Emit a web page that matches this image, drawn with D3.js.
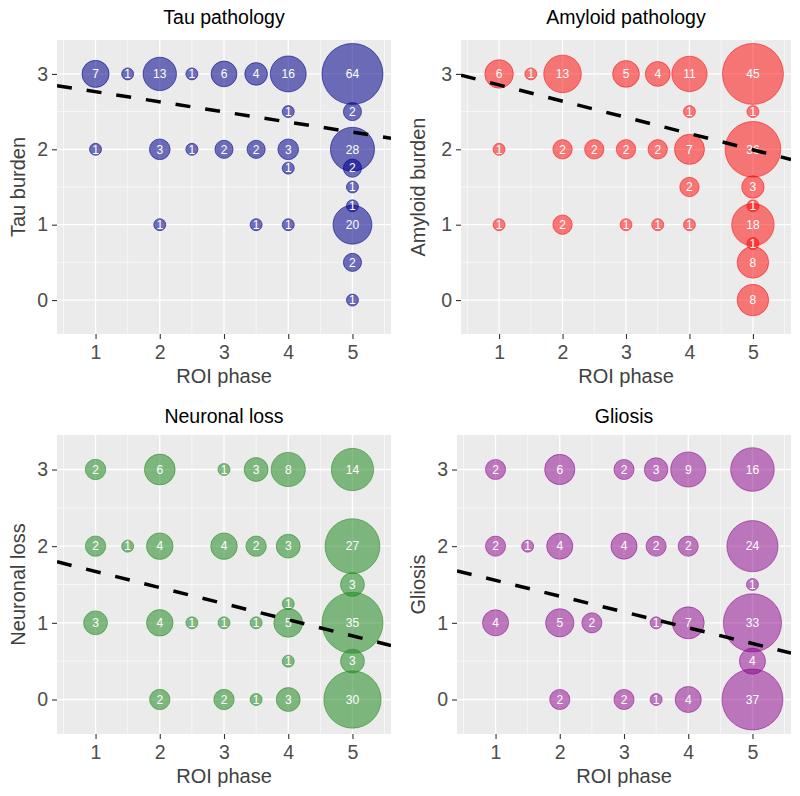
<!DOCTYPE html>
<html>
<head>
<meta charset="utf-8">
<script src="https://cdn.jsdelivr.net/npm/d3@7"></script>
<style>
  body { margin: 0; background: #fff; }
  svg { font-family: "Liberation Sans", Arial, Helvetica, sans-serif; }
</style>
</head>
<body>
<svg id="chart" width="800" height="796"></svg>
<script>
// each point: [ROI phase, burden score, number of cases]
const tauData = [
  [1, 3, 7], [1.5, 3, 1], [2, 3, 13], [2.5, 3, 1], [3, 3, 6], [3.5, 3, 4], [4, 3, 16], [5, 3, 64],
  [4, 2.5, 1], [5, 2.5, 2],
  [1, 2, 1], [2, 2, 3], [2.5, 2, 1], [3, 2, 2], [3.5, 2, 2], [4, 2, 3], [5, 2, 28],
  [4, 1.75, 1], [5, 1.75, 2],
  [5, 1.5, 1], [5, 1.25, 1],
  [2, 1, 1], [3.5, 1, 1], [4, 1, 1], [5, 1, 20],
  [5, 0.5, 2], [5, 0, 1]
];
const amyloidData = [
  [1, 3, 6], [1.5, 3, 1], [2, 3, 13], [3, 3, 5], [3.5, 3, 4], [4, 3, 11], [5, 3, 45],
  [4, 2.5, 1], [5, 2.5, 1],
  [1, 2, 1], [2, 2, 2], [2.5, 2, 2], [3, 2, 2], [3.5, 2, 2], [4, 2, 7], [5, 2, 36],
  [4, 1.5, 2], [5, 1.5, 3], [5, 1.25, 1],
  [1, 1, 1], [2, 1, 2], [3, 1, 1], [3.5, 1, 1], [4, 1, 1], [5, 1, 18],
  [5, 0.75, 1], [5, 0.5, 8], [5, 0, 8]
];
const neuronData = [
  [1, 3, 2], [2, 3, 6], [3, 3, 1], [3.5, 3, 3], [4, 3, 8], [5, 3, 14],
  [1, 2, 2], [1.5, 2, 1], [2, 2, 4], [3, 2, 4], [3.5, 2, 2], [4, 2, 3], [5, 2, 27],
  [5, 1.5, 3], [4, 1.25, 1],
  [1, 1, 3], [2, 1, 4], [2.5, 1, 1], [3, 1, 1], [3.5, 1, 1], [4, 1, 5], [5, 1, 35],
  [4, 0.5, 1], [5, 0.5, 3],
  [2, 0, 2], [3, 0, 2], [3.5, 0, 1], [4, 0, 3], [5, 0, 30]
];
const gliosisData = [
  [1, 3, 2], [2, 3, 6], [3, 3, 2], [3.5, 3, 3], [4, 3, 9], [5, 3, 16],
  [1, 2, 2], [1.5, 2, 1], [2, 2, 4], [3, 2, 4], [3.5, 2, 2], [4, 2, 2], [5, 2, 24],
  [5, 1.5, 1],
  [1, 1, 4], [2, 1, 5], [2.5, 1, 2], [3.5, 1, 1], [4, 1, 7], [5, 1, 33],
  [5, 0.5, 4],
  [2, 0, 2], [3, 0, 2], [3.5, 0, 1], [4, 0, 4], [5, 0, 37]
];

// fitted regression lines [intercept, slope]
const tauFit = [2.898, -0.134];
const amyloidFit = [3.069, -0.215];
const neuronFit = [1.88, -0.21];
const gliosisFit = [1.76, -0.206];

const xTicks = [1, 2, 3, 4, 5];
const yTicks = [0, 1, 2, 3];

const panels = [
  { title: "Tau pathology", ylab: "Tau burden", data: tauData, fit: tauFit,
    color: "#00008b", alpha: 0.55, box: { x0: 57, x1: 391, y0: 40, y1: 334 }, titleY: 24, ylabX: 25 },
  { title: "Amyloid pathology", ylab: "Amyloid burden", data: amyloidData, fit: amyloidFit,
    color: "#ff0000", alpha: 0.5, box: { x0: 461, x1: 791, y0: 40, y1: 334 }, titleY: 24, ylabX: 425 },
  { title: "Neuronal loss", ylab: "Neuronal loss", data: neuronData, fit: neuronFit,
    color: "#228b22", alpha: 0.55, box: { x0: 57, x1: 391, y0: 435, y1: 734 }, titleY: 422.5, ylabX: 25 },
  { title: "Gliosis", ylab: "Gliosis", data: gliosisData, fit: gliosisFit,
    color: "#8b008b", alpha: 0.5, box: { x0: 457, x1: 791, y0: 435, y1: 734 }, titleY: 422.5, ylabX: 425 }
];

const svg = d3.select("#chart");

function drawPanel(p, i) {
  const b = p.box;
  const g = svg.append("g");

  const x = d3.scaleLinear().domain([0.4, 5.6]).range([b.x0, b.x1]);
  const y = d3.scaleLinear().domain([-0.45, 3.45]).range([b.y1, b.y0]);

  // ggplot-style size scale: sqrt of the rescaled count
  const maxN = d3.max(p.data, d => d[2]);
  const rescale = d3.scaleLinear().domain([1, maxN]).range([0, 1]);
  const size = d3.scaleLinear().domain([0, 1]).range([6, 30.5]);
  const radius = n => size(Math.sqrt(rescale(n)));

  // panel background
  g.append("rect")
    .attr("x", b.x0).attr("y", b.y0)
    .attr("width", b.x1 - b.x0).attr("height", b.y1 - b.y0)
    .attr("fill", "#ebebeb");

  // minor grid
  g.selectAll(".minor-x")
    .data(d3.range(0.5, 6, 1))
    .enter().append("line")
    .attr("x1", d => x(d)).attr("x2", d => x(d))
    .attr("y1", b.y0).attr("y2", b.y1)
    .attr("stroke", "#fff").attr("stroke-width", 0.6);
  g.selectAll(".minor-y")
    .data(d3.range(0.5, 3, 1))
    .enter().append("line")
    .attr("y1", d => y(d)).attr("y2", d => y(d))
    .attr("x1", b.x0).attr("x2", b.x1)
    .attr("stroke", "#fff").attr("stroke-width", 0.6);

  // major grid
  g.selectAll(".major-x")
    .data(xTicks)
    .enter().append("line")
    .attr("x1", d => x(d)).attr("x2", d => x(d))
    .attr("y1", b.y0).attr("y2", b.y1)
    .attr("stroke", "#fff").attr("stroke-width", 1.3);
  g.selectAll(".major-y")
    .data(yTicks)
    .enter().append("line")
    .attr("y1", d => y(d)).attr("y2", d => y(d))
    .attr("x1", b.x0).attr("x2", b.x1)
    .attr("stroke", "#fff").attr("stroke-width", 1.3);

  // clip for the fitted line
  const clipId = "clip" + i;
  svg.append("clipPath").attr("id", clipId)
    .append("rect")
    .attr("x", b.x0).attr("y", b.y0)
    .attr("width", b.x1 - b.x0).attr("height", b.y1 - b.y0);

  // bubbles
  g.selectAll(".bubble")
    .data(p.data)
    .enter().append("circle")
    .attr("cx", d => x(d[0]))
    .attr("cy", d => y(d[1]))
    .attr("r", d => radius(d[2]))
    .attr("fill", p.color)
    .attr("fill-opacity", p.alpha)
    .attr("stroke", p.color)
    .attr("stroke-opacity", p.alpha)
    .attr("stroke-width", 1);

  // counts
  g.selectAll(".count")
    .data(p.data)
    .enter().append("text")
    .attr("x", d => x(d[0]))
    .attr("y", d => y(d[1]))
    .attr("dy", "0.36em")
    .attr("text-anchor", "middle")
    .style("font-size", "12px")
    .attr("fill", "#fff")
    .text(d => d[2]);

  // regression line (dashed)
  const xd = x.domain();
  g.append("line")
    .attr("clip-path", `url(#${clipId})`)
    .attr("x1", x(xd[0])).attr("y1", y(p.fit[0] + p.fit[1] * xd[0]))
    .attr("x2", x(xd[1])).attr("y2", y(p.fit[0] + p.fit[1] * xd[1]))
    .attr("stroke", "#000")
    .attr("stroke-width", 3.5)
    .attr("stroke-dasharray", "15,15");

  // axes
  const xAxis = g.append("g")
    .attr("transform", `translate(0, ${b.y1})`)
    .call(d3.axisBottom(x).tickValues(xTicks).tickFormat(d3.format("d")).tickSize(5).tickPadding(6));
  const yAxis = g.append("g")
    .attr("transform", `translate(${b.x0}, 0)`)
    .call(d3.axisLeft(y).tickValues(yTicks).tickFormat(d3.format("d")).tickSize(5).tickPadding(4));
  [xAxis, yAxis].forEach(a => {
    a.select(".domain").remove();
    a.selectAll(".tick line").attr("stroke", "#333").attr("stroke-width", 1.1);
    a.selectAll(".tick text")
      .attr("fill", "#4d4d4d")
      .style("font-size", "19.5px")
      .style("font-family", "'Liberation Sans', Arial, sans-serif");
  });

  // titles
  g.append("text")
    .attr("x", (b.x0 + b.x1) / 2)
    .attr("y", p.titleY)
    .attr("text-anchor", "middle")
    .style("font-size", "19.5px")
    .attr("fill", "#000")
    .text(p.title);

  g.append("text")
    .attr("x", (b.x0 + b.x1) / 2)
    .attr("y", b.y1 + 49)
    .attr("text-anchor", "middle")
    .style("font-size", "20px")
    .attr("fill", "#404040")
    .text("ROI phase");

  g.append("text")
    .attr("transform", `translate(${p.ylabX}, ${(b.y0 + b.y1) / 2}) rotate(-90)`)
    .attr("text-anchor", "middle")
    .style("font-size", "20px")
    .attr("fill", "#404040")
    .text(p.ylab);
}

panels.forEach(drawPanel);
</script>
</body>
</html>
